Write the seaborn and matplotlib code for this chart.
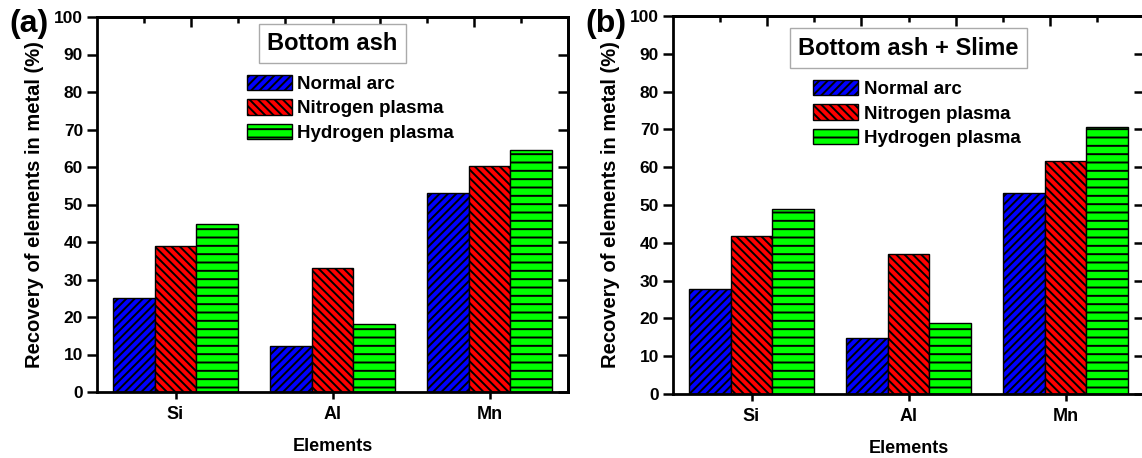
import numpy as np
import pandas as pd
import matplotlib
matplotlib.use('Agg')
import matplotlib.pyplot as plt
import seaborn as sns

# ---- data ----
elements = ['Si', 'Al', 'Mn']
methods = ['Normal arc', 'Nitrogen plasma', 'Hydrogen plasma']

a_normal = [25.0, 12.2, 53.2]
a_nitrogen = [39.0, 33.2, 60.2]
a_hydrogen = [44.9, 18.1, 64.6]

b_normal = [27.8, 14.8, 53.3]
b_nitrogen = [41.9, 37.0, 61.7]
b_hydrogen = [48.9, 18.9, 70.6]

title_a = 'Bottom ash'
title_b = 'Bottom ash + Slime'
yticks = list(range(0, 101, 10))
ylabel = 'Recovery of elements in metal (%)'
xlabel = 'Elements'

# ---- style ----
sns.set_theme(style='ticks')
plt.rcParams['font.family'] = ['Liberation Sans', 'DejaVu Sans']
plt.rcParams['font.weight'] = 'bold'
plt.rcParams['hatch.linewidth'] = 1.4
for key in ['text.color', 'axes.labelcolor', 'xtick.color', 'ytick.color', 'axes.edgecolor']:
    plt.rcParams[key] = 'black'

colors = ['#0000FF', '#FF0000', '#00FF00']
hatches = ['////', '\\\\\\\\', '--']

W, H = 1142, 458
fig = plt.figure(figsize=(W / 100, H / 100), dpi=100)
axA = fig.add_axes([97 / W, 1 - 392 / H, 471 / W, 375 / H])
axB = fig.add_axes([673 / W, 1 - 394 / H, 471 / W, 378 / H])


def draw(ax, normal, nitrogen, hydrogen, title, title_y, leg_x, leg_y):
    df = pd.DataFrame({
        'Element': elements * 3,
        'Method': [m for m in methods for _ in elements],
        'Recovery': normal + nitrogen + hydrogen,
    })
    sns.barplot(data=df, x='Element', y='Recovery', hue='Method',
                order=elements, hue_order=methods, palette=colors,
                saturation=1, width=0.8, edgecolor='black', linewidth=1.0,
                errorbar=None, legend=False, ax=ax)
    for cont, h in zip(ax.containers, hatches):
        for p in cont.patches:
            p.set_hatch(h)
    ax.set_xlim(-0.5, 2.5)
    ax.set_ylim(0, 100)
    ax.set_yticks(yticks)
    for s in ax.spines.values():
        s.set_visible(True)
        s.set_linewidth(2.0)
        s.set_color('black')
    ax.tick_params(axis='y', direction='out', length=7, width=1.8,
                   labelsize=12.5, pad=3, colors='black')
    ax.tick_params(axis='x', direction='out', length=5, width=1.8,
                   labelsize=13, pad=5, colors='black')
    for lab in ax.get_xticklabels() + ax.get_yticklabels():
        lab.set_fontweight('bold')
    ax.set_ylabel(ylabel, fontsize=14.5, fontweight='bold', labelpad=7, color='black')
    ax.set_xlabel(xlabel, fontsize=13, fontweight='bold', labelpad=11, color='black')

    # mirrored axes (Origin style)
    secy = ax.secondary_yaxis('right')
    secy.set_yticks(yticks)
    secy.tick_params(direction='in', length=7, width=1.8, labelright=False)
    secy.spines['right'].set_linewidth(2.0)
    secx = ax.secondary_xaxis('top')
    secx.set_xticks([0.1, 0.7, 1.3, 1.9])
    secx.set_xticks([-0.2, 0.4, 1.0, 1.6, 2.2], minor=True)
    secx.tick_params(which='major', direction='in', length=7, width=1.8, labeltop=False)
    secx.tick_params(which='minor', direction='in', length=4, width=1.8, labeltop=False)
    secx.spines['top'].set_linewidth(2.0)

    ax.text(0.5, title_y, title, transform=ax.transAxes, ha='center', va='center',
            fontsize=17, fontweight='bold', color='black',
            bbox=dict(boxstyle='square,pad=0.35', fc='white', ec='#aaaaaa', lw=1))
    ax.legend(handles=ax.containers, labels=methods, loc='upper left',
              bbox_to_anchor=(leg_x, leg_y), frameon=False,
              prop={'weight': 'bold', 'size': 13.5}, handlelength=2.4,
              handleheight=0.9, handletextpad=0.3, labelspacing=0.33,
              borderpad=0, borderaxespad=0)


draw(axA, a_normal, a_nitrogen, a_hydrogen, title_a, 0.929, 0.318, 0.846)
draw(axB, b_normal, b_nitrogen, b_hydrogen, title_b, 0.915, 0.297, 0.831)

fig.text(29 / W, 1 - 24 / H, '(a)', ha='center', va='center', fontsize=23, fontweight='bold')
fig.text(606 / W, 1 - 24 / H, '(b)', ha='center', va='center', fontsize=23, fontweight='bold')

fig.savefig('out.png', dpi=100, facecolor='white')
